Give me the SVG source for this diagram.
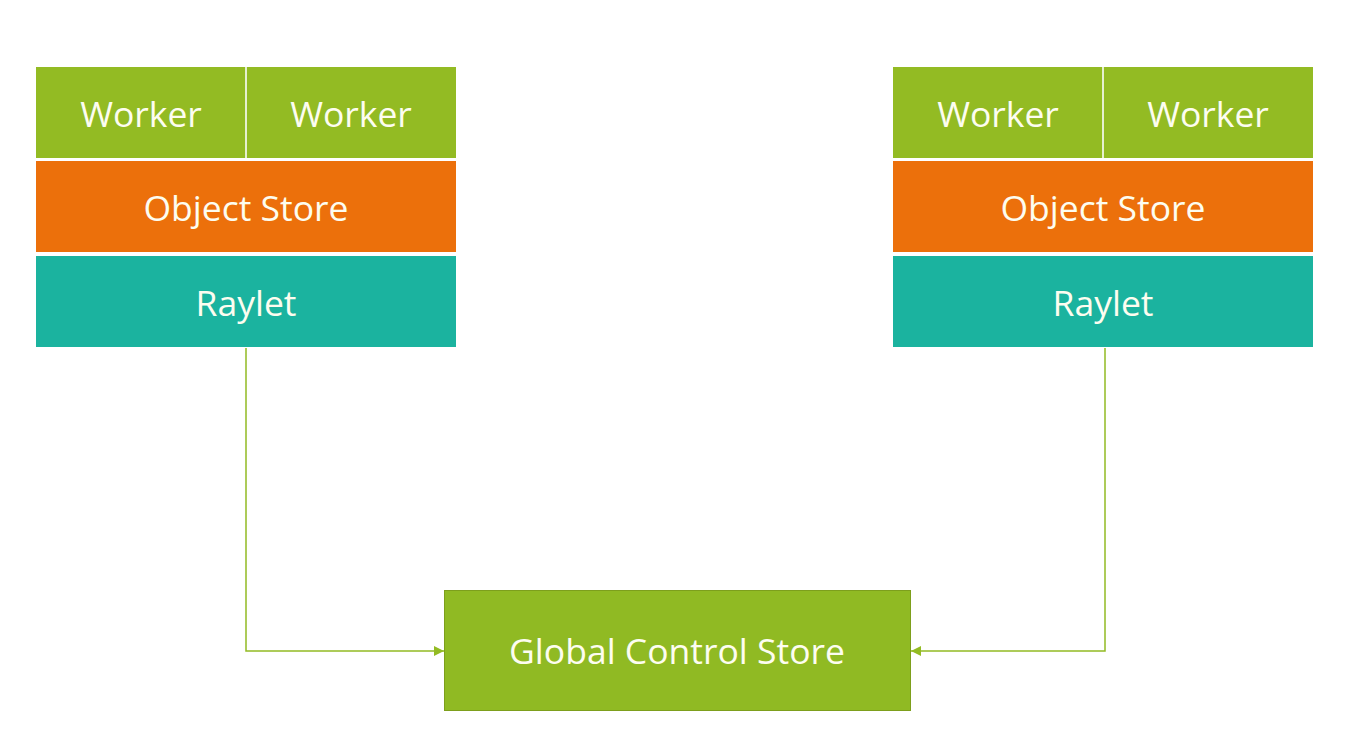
<svg xmlns="http://www.w3.org/2000/svg" width="1354" height="740" viewBox="0 0 1354 740">
<style>
.w{fill:#93bb23}
.o{fill:#ec700b}
.t{fill:#1bb39f}
.sep{stroke:#e6f0d0;stroke-width:2}
.lbl{font-family:"Open Sans","Noto Sans",sans-serif;font-size:35.5px;fill:#fdfdf0;text-anchor:middle;dominant-baseline:central}
.conn{fill:none;stroke:#93bb23;stroke-width:1.5}
</style>
<defs>
<marker id="ah" viewBox="0 0 10 10" refX="10" refY="5" markerWidth="10" markerHeight="10" markerUnits="userSpaceOnUse" orient="auto">
<path d="M0,0 L10,5 L0,10 z" fill="#93bb23"/>
</marker>
</defs>
<rect width="1354" height="740" fill="#ffffff"/>
<g id="node-left">
<rect class="w" x="36" y="67" width="420" height="91"/>
<line class="sep" x1="246" y1="67" x2="246" y2="158"/>
<text class="lbl" x="141" y="113">Worker</text>
<text class="lbl" x="351" y="113">Worker</text>
<rect class="o" x="36" y="161" width="420" height="91"/>
<text class="lbl" x="246" y="207">Object Store</text>
<rect class="t" x="36" y="256" width="420" height="91"/>
<text class="lbl" x="246" y="302">Raylet</text>
</g>
<g id="node-right">
<rect class="w" x="893" y="67" width="420" height="91"/>
<line class="sep" x1="1103" y1="67" x2="1103" y2="158"/>
<text class="lbl" x="998" y="113">Worker</text>
<text class="lbl" x="1208" y="113">Worker</text>
<rect class="o" x="893" y="161" width="420" height="91"/>
<text class="lbl" x="1103" y="207">Object Store</text>
<rect class="t" x="893" y="256" width="420" height="91"/>
<text class="lbl" x="1103" y="302">Raylet</text>
</g>
<g id="node-gcs">
<rect x="444.5" y="590.5" width="466" height="120" fill="#90ba23" stroke="#7d9f1c" stroke-width="1"/>
<text class="lbl" x="677" y="650">Global Control Store</text>
</g>
<g id="connectors">
<path class="conn" d="M246,348 V651 H444" marker-end="url(#ah)"/>
<path class="conn" d="M1105,348 V651 H911" marker-end="url(#ah)"/>
</g>
</svg>
